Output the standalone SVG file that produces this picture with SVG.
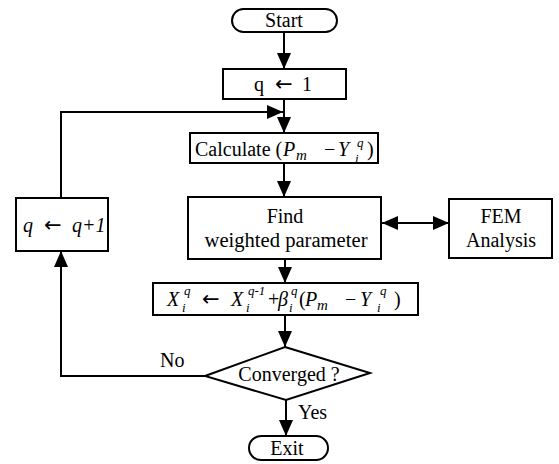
<svg xmlns="http://www.w3.org/2000/svg" width="559" height="464" viewBox="0 0 559 464">
<defs>
<marker id="ah" markerUnits="userSpaceOnUse" markerWidth="16" markerHeight="14" refX="16" refY="7" orient="auto-start-reverse" viewBox="0 0 16 14">
<path d="M0,0 L16,7 L0,14 z" fill="#000"/>
</marker>
<style>
.box{fill:#fff;stroke:#000;stroke-width:2}
.t{font-family:"Liberation Serif","Times New Roman",serif;font-size:20px;fill:#000;text-anchor:middle}
.m{font-family:"Liberation Serif","Times New Roman",serif;font-size:20px;fill:#000}
.i{font-style:italic}
.s{font-size:13px}
.sm{font-size:15px}
.a{font-family:"DejaVu Sans",sans-serif;font-size:21px;fill:#000}
.c{fill:none;stroke:#000;stroke-width:2;marker-end:url(#ah)}
</style>
</defs>
<rect width="559" height="464" fill="#fff"/>
<g id="connectors">
<line class="c" x1="284" y1="32" x2="284" y2="69"/>
<line class="c" x1="284" y1="99" x2="284" y2="133"/>
<line class="c" x1="284" y1="163" x2="284" y2="197"/>
<line class="c" x1="285" y1="259" x2="285" y2="283"/>
<line class="c" x1="285" y1="315" x2="285" y2="347"/>
<line class="c" x1="286" y1="400" x2="286" y2="436"/>
<line class="c" x1="382" y1="223" x2="449" y2="223" style="marker-start:url(#ah)"/>
<polyline class="c" points="205,376 61,376 61,251"/>
<polyline class="c" points="61,198 61,112 283,112"/>
<text class="m" x="160" y="367">No</text>
<text class="m" x="298" y="419">Yes</text>
</g>
<g id="start">
<rect class="box" x="232" y="9" width="105" height="23" rx="11.5"/>
<text class="t" x="284" y="27">Start</text>
</g>
<g id="init">
<rect class="box" x="223" y="69" width="123" height="30"/>
<text class="m" x="254" y="91">q</text>
<text class="a" x="275" y="91">←</text>
<text class="m" x="302" y="91">1</text>
</g>
<g id="calculate">
<rect class="box" x="190" y="133" width="188" height="30"/>
<text class="m" x="195" y="156">Calculate (</text>
<text class="m i" x="283" y="156">P</text>
<text class="m i sm" x="296" y="160">m</text>
<text class="m" x="324" y="156">−</text>
<text class="m i" x="338" y="156">Y</text>
<text class="m i s" x="357" y="147">q</text>
<text class="m i s" x="355" y="163">i</text>
<text class="m" x="367" y="156">)</text>
</g>
<g id="find">
<rect class="box" x="188" y="197" width="193" height="62"/>
<text class="t" x="285" y="223">Find</text>
<text class="t" x="286" y="247" textLength="163" lengthAdjust="spacingAndGlyphs">weighted parameter</text>
</g>
<g id="fem">
<rect class="box" x="449" y="199" width="103" height="59"/>
<text class="t" x="501" y="223">FEM</text>
<text class="t" x="501" y="247">Analysis</text>
</g>
<g id="update">
<rect class="box" x="153" y="283" width="265" height="32"/>
<text class="m i" x="167" y="306">X</text>
<text class="m i s" x="184" y="295">q</text>
<text class="m i s" x="182" y="312">i</text>
<text class="a" x="202" y="306">←</text>
<text class="m i" x="231" y="306">X</text>
<text class="m i s" x="248" y="295">q-1</text>
<text class="m i s" x="246" y="312">i</text>
<text class="m" x="268" y="306">+</text>
<text class="m i" x="278" y="306">β</text>
<text class="m i s" x="291" y="295">q</text>
<text class="m i s" x="289" y="312">i</text>
<text class="m" x="299" y="306">(</text>
<text class="m i" x="305" y="306">P</text>
<text class="m i sm" x="317" y="310">m</text>
<text class="m" x="345" y="306">−</text>
<text class="m i" x="360" y="306">Y</text>
<text class="m i s" x="380" y="295">q</text>
<text class="m i s" x="377" y="312">i</text>
<text class="m" x="394" y="306">)</text>
</g>
<g id="step">
<rect class="box" x="16" y="198" width="92" height="53"/>
<text class="m i" x="23" y="232">q</text>
<text class="a" x="44" y="232">←</text>
<text class="m i" x="72" y="232">q+1</text>
</g>
<g id="converged">
<polygon class="box" points="285,347 370,373 286,400 205,376"/>
<text class="t" x="289" y="381">Converged ?</text>
</g>
<g id="exit">
<rect class="box" x="249" y="436" width="79" height="24" rx="12"/>
<text class="t" x="287" y="455">Exit</text>
</g>
</svg>
